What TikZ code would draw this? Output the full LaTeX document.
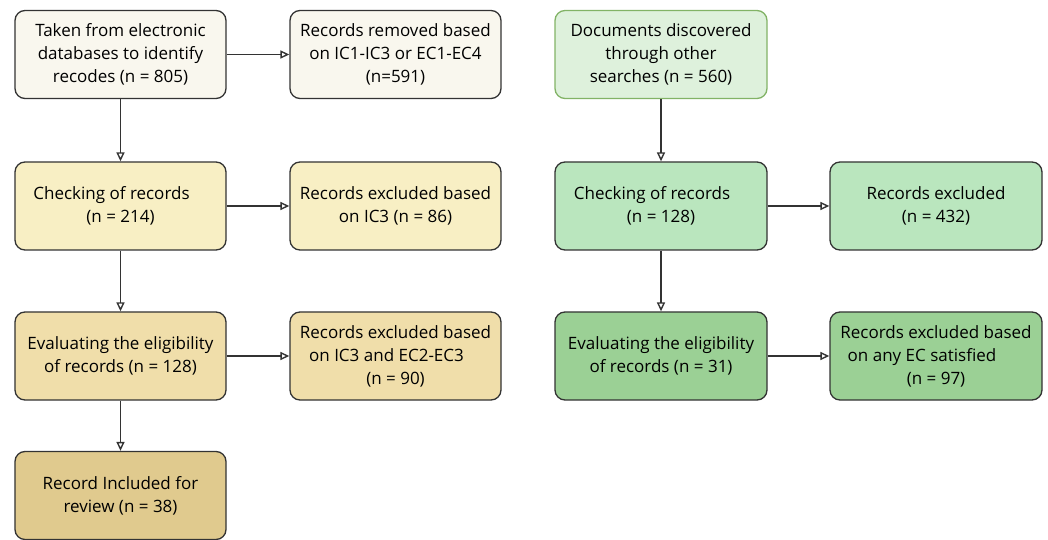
\documentclass[tikz,border=0pt]{standalone}
\usepackage{fontspec}
\setmainfont{Open Sans}
\usetikzlibrary{arrows.meta}
\definecolor{neutralfill}{HTML}{F9F7EE}
\definecolor{yellowA}{HTML}{F8EFC4}
\definecolor{yellowB}{HTML}{F0DEAA}
\definecolor{yellowC}{HTML}{E0CA8E}
\definecolor{greenA}{HTML}{DEF1DC}
\definecolor{greenB}{HTML}{BAE6BE}
\definecolor{greenC}{HTML}{9BD095}
\definecolor{greenedge}{HTML}{82B366}
\definecolor{edge}{HTML}{333333}
\tikzset{
  box/.style={draw=edge, line width=1.3bp, rounded corners=10bp,
    minimum width=211bp, minimum height=88bp, align=center, inner sep=2bp,
    font=\fontsize{17bp}{23bp}\selectfont, text=black},
  flow/.style={draw=edge, line width=1.4bp,
    -{Triangle[open, length=9bp, width=8bp]}}
}
\newcommand{\shiftl}[1]{\rule{#1}{0pt}}
\begin{document}
\begin{tikzpicture}[x=1bp, y=-1bp]
\useasboundingbox (0,0) rectangle (1048,540);

% left stream: database search
\node[box, fill=neutralfill] (db) at (120.5,54.5)
  {Taken from electronic\\databases to identify\\recodes (n = 805)};
\node[box, fill=neutralfill] (dbrm) at (395.5,54.5)
  {Records removed based\\on IC1-IC3 or EC1-EC4\\(n=591)};
\node[box, fill=yellowA] (chk) at (120.5,206)
  {Checking of records\shiftl{18bp}\\(n = 214)};
\node[box, fill=yellowA] (chkex) at (395.5,206)
  {Records excluded based\\on IC3 (n = 86)};
\node[box, fill=yellowB] (elig) at (120.5,356)
  {Evaluating the eligibility\\of records (n = 128)};
\node[box, fill=yellowB] (eligex) at (395.5,356)
  {Records excluded based\\on IC3 and EC2-EC3\shiftl{18bp}\\(n = 90)};
\node[box, fill=yellowC] (incl) at (120.5,495.5)
  {Record Included for\\review (n = 38)};

% right stream: other searches
\node[box, fill=greenA, draw=greenedge, minimum width=212bp] (oth) at (661,54.5)
  {Documents discovered\\through other\\searches (n = 560)};
\node[box, fill=greenB, minimum width=212bp] (ochk) at (661,206)
  {Checking of records\shiftl{18bp}\\(n = 128)};
\node[box, fill=greenB, minimum width=212bp] (ochkex) at (936,206)
  {Records excluded\\(n = 432)};
\node[box, fill=greenC, minimum width=212bp] (oelig) at (661,356)
  {Evaluating the eligibility\\of records (n = 31)};
\node[box, fill=greenC, minimum width=212bp] (oeligex) at (936,356)
  {Records excluded based\\on any EC satisfied\shiftl{28bp}\\(n = 97)};

% connectors
\draw[flow] (db) -- (dbrm);
\draw[flow] (db) -- (chk);
\draw[flow] (chk) -- (chkex);
\draw[flow] (chk) -- (elig);
\draw[flow] (elig) -- (eligex);
\draw[flow] (elig) -- (incl);
\draw[flow] (oth) -- (ochk);
\draw[flow] (ochk) -- (ochkex);
\draw[flow] (ochk) -- (oelig);
\draw[flow] (oelig) -- (oeligex);
\end{tikzpicture}
\end{document}
